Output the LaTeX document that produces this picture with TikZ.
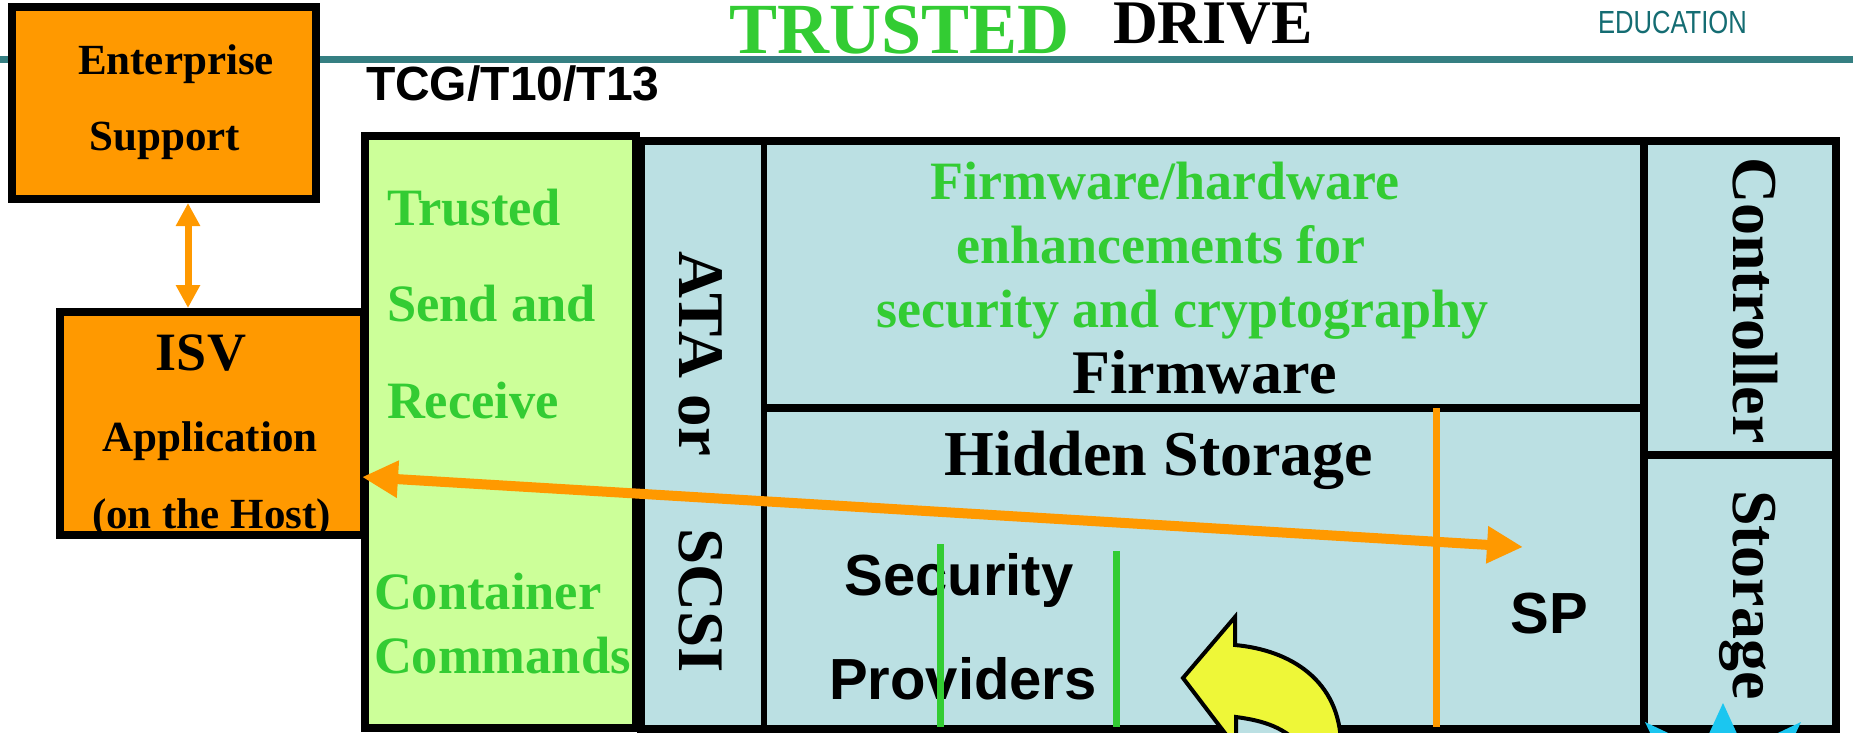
\documentclass[tikz,border=0pt]{standalone}
\usepackage{fontspec}
\setmainfont{Liberation Serif}
\newfontfamily\sansbf{Liberation Sans}
\newfontfamily\edufont[FakeStretch=0.8]{Liberation Sans}
\usetikzlibrary{arrows.meta}

\definecolor{hostorange}{RGB}{255,153,0}
\definecolor{cmdlime}{RGB}{204,255,153}
\definecolor{drivecyan}{RGB}{187,224,227}
\definecolor{tcggreen}{RGB}{51,204,51}
\definecolor{rulerteal}{RGB}{53,127,130}
\definecolor{eduteal}{RGB}{20,108,114}
\definecolor{bendyellow}{RGB}{238,247,56}
\definecolor{burstcyan}{RGB}{27,198,240}

\newcommand\fsz[1]{\fontsize{#1}{#1}\selectfont}

\tikzset{
  bigtip/.tip={Triangle[length=36pt,width=35pt]},
  smalltip/.tip={Triangle[length=23pt,width=23pt]}}

\begin{document}
\begin{tikzpicture}[x=1pt,y=-1pt,
  every node/.style={inner sep=0pt,outer sep=0pt},
  framebox/.style={draw=black,line width=8pt,rectangle,outer sep=4pt},
  serifbf/.style={font=\bfseries\fsz{#1}},
  sansb/.style={font=\sansbf\bfseries\fsz{#1}},
  greentxt/.style={text=tcggreen},
  flow/.style={draw=hostorange,line width=#1},
  divider/.style={draw=black,line width=#1},
  marker/.style={draw=tcggreen,line width=7pt}]

\useasboundingbox (0,0) rectangle (1853,732);
\clip (0,0) rectangle (1853,732);

% header
\draw[rulerteal,line width=6.5pt] (0,59.5) -- (1853,59.5);
\node[anchor=base west,serifbf=72,greentxt,text height=48pt] (ttl1) at (729,53) {TRUSTED};
\node[anchor=base west,serifbf=62,text height=41pt] (ttl2) at (1113,43) {DRIVE};
\node[anchor=base west,font=\edufont\fsz{32},text=eduteal] (edu) at (1598,33) {EDUCATION};
\node[anchor=base west,sansb=48] (std) at (366,100) {TCG/T10/T13};

% host side boxes
\node[framebox,fill=hostorange,minimum width=304pt,minimum height=192pt] (ent) at (164,103) {};
\node[anchor=base,serifbf=43] (entA) at (176,74) {Enterprise};
\node[anchor=base,serifbf=43] (entB) at (165,150) {Support};

\node[framebox,fill=hostorange,minimum width=304pt,minimum height=223pt] (isv) at (212,423.5) {};
\node[anchor=base,serifbf=54] (isvA) at (201,370) {ISV};
\node[anchor=base,serifbf=43] (isvB) at (210,451) {Application};
\node[anchor=base,serifbf=43] (isvC) at (211.5,528) {(on the Host)};

\coordinate (vx) at (188,0);
\draw[flow=7pt,smalltip-smalltip] (ent.south -| vx) -- (isv.north -| vx);

% drive body
\node[framebox,fill=drivecyan,minimum width=1195pt,minimum height=588pt] (drive) at (1238.5,435) {};
\draw[divider=6pt] (764,141) -- (764,729);
\draw[divider=8pt] (764,408) -- (1644,408);
\draw[divider=8pt] (1644,141) -- (1644,729);
\draw[divider=8pt] (1644,455) -- (1836,455);

% command column
\node[framebox,fill=cmdlime,minimum width=271.5pt,minimum height=592pt] (cmd) at (500.25,432) {};
\node[anchor=base west,serifbf=52.5,greentxt] (cmdA) at (387,225) {Trusted};
\node[anchor=base west,serifbf=52.5,greentxt] (cmdB) at (387,321) {Send and};
\node[anchor=base west,serifbf=52.5,greentxt] (cmdC) at (387,418) {Receive};
\node[anchor=base west,serifbf=52.5,greentxt] (cmdD) at (374,609) {Container};
\node[anchor=base west,serifbf=52.5,greentxt] (cmdE) at (374,673) {Commands};

% interface and controller labels
\node[anchor=base west,rotate=-90,serifbf=65] (ifA) at (679,251) {ATA or};
\node[anchor=base west,rotate=-90,serifbf=65] (ifB) at (679,528) {SCSI};
\node[anchor=base west,rotate=-90,serifbf=64] (ctl) at (1733,157) {Controller};
\node[anchor=base west,rotate=-90,serifbf=64] (sto) at (1733,490) {Storage};

% firmware area
\node[anchor=base,serifbf=54,greentxt] (fwA) at (1165,199) {Firmware/hardware};
\node[anchor=base,serifbf=54,greentxt] (fwB) at (1161,263) {enhancements for};
\node[anchor=base,serifbf=54,greentxt] (fwC) at (1182.5,327) {security and cryptography};
\node[anchor=base,serifbf=62] (fw) at (1204.6,393) {Firmware};
\node[anchor=base,serifbf=64] (hid) at (1159,475) {Hidden Storage};

% security providers
\node[anchor=base,sansb=58] (spA) at (959,595) {Security};
\node[anchor=base,sansb=58] (spB) at (963,699) {Providers};
\node[anchor=base,sansb=58] (sp) at (1549.5,633) {SP};
\draw[marker] (940,544) -- (940,727);
\draw[marker] (1116,551) -- (1116,727);
\draw[flow=7pt] (1436.5,408) -- (1436.5,727);

% host to SP exchange
\coordinate (hostIn) at (362,477);
\coordinate (spIn) at (1523,547);
\draw[flow=10pt,bigtip-bigtip] (hostIn) -- (spIn);

% curved arrow, its inner bend left open
\filldraw[fill=bendyellow,draw=black,line width=4pt,line join=miter]
  (1183,678) -- (1235,617) -- (1235,645)
  .. controls (1290,650) and (1340,680) .. (1341,745)
  -- (1234,745) -- cycle;
\filldraw[fill=drivecyan,draw=black,line width=4pt]
  (1236,717) .. controls (1258,720) and (1282,725) .. (1300,745)
  -- (1236,745) -- cycle;

% burst
\fill[burstcyan] (1672,779) -- (1645,722) -- (1702,749) -- (1723,703)
  -- (1744,749) -- (1801,722) -- (1774,779) -- cycle;
\end{tikzpicture}
\end{document}
